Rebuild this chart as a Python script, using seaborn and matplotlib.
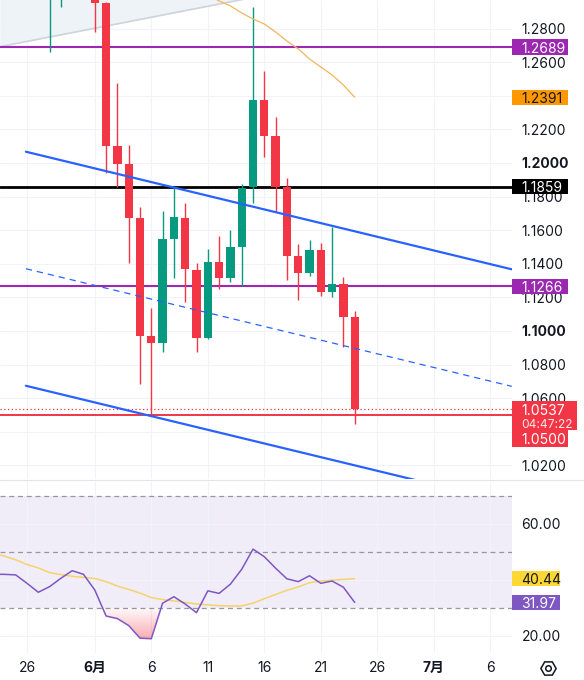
import numpy as np
import matplotlib
matplotlib.use("Agg")
import matplotlib.pyplot as plt
import seaborn as sns
from matplotlib.patches import Rectangle
from matplotlib.lines import Line2D
from matplotlib.colors import LinearSegmentedColormap
from matplotlib import transforms

# ---------------------------------------------------------------
# data (day index: 0 = 5/26)
# ---------------------------------------------------------------
candle_days = list(range(2, 30))
opens  = [1.3020, 1.3010, 1.3120, 1.3180, 1.3060, 1.2954, 1.2103, 1.1992,
          1.1671, 1.0970, 1.0927, 1.1548, 1.1671, 1.1363, 1.0957, 1.1409,
          1.1314, 1.1502, 1.1855, 1.2375, 1.2161, 1.1855, 1.1448, 1.1343,
          1.1482, 1.1234, 1.1280, 1.1082]
highs  = [1.3150, 1.3200, 1.3250, 1.3220, 1.3100, 1.2960, 1.2474, 1.2107,
          1.1736, 1.1135, 1.1716, 1.1855, 1.1760, 1.1403, 1.1486, 1.1565,
          1.1601, 1.1875, 1.2930, 1.2549, 1.2272, 1.1909, 1.1518, 1.1542,
          1.1522, 1.1621, 1.1323, 1.1121]
lows   = [1.2663, 1.2930, 1.3050, 1.3020, 1.2778, 1.1942, 1.1859, 1.1403,
          1.0683, 1.0502, 1.0877, 1.1314, 1.1174, 1.0873, 1.0955, 1.1248,
          1.1290, 1.1268, 1.1760, 1.2038, 1.1710, 1.1304, 1.1185, 1.1327,
          1.1210, 1.1204, 1.0907, 1.0446]
closes = [1.3100, 1.3120, 1.3180, 1.3060, 1.2955, 1.2103, 1.1992, 1.1671,
          1.0970, 1.0927, 1.1548, 1.1677, 1.1367, 1.0957, 1.1409, 1.1314,
          1.1502, 1.1849, 1.2375, 1.2161, 1.1855, 1.1448, 1.1343, 1.1482,
          1.1234, 1.1280, 1.1082, 1.0537]

ma_days = list(range(16, 30))
ma_price = [1.3005, 1.2964, 1.2935, 1.2893, 1.2857, 1.2827, 1.2780, 1.2726,
            1.2679, 1.2619, 1.2571, 1.2524, 1.2464, 1.2391]

chan_x = [-0.1, 42.9]
chan_upper = [1.2067, 1.1367]
chan_lower = [1.0674, 0.9974]
trend_x = [-2.4, 20.0]
trend_y = [1.2692, 1.2985]

level_purple_hi = 1.2689
level_black = 1.1859
level_purple_lo = 1.1266
level_red = 1.0500
last_price = 1.0537
ma_last = 1.2391
countdown = "04:47:22"

rsi_days = list(range(-3, 30))
rsi = [42.0, 42.0, 41.8, 38.8, 35.6, 37.6, 40.6, 43.3, 42.0, 36.4, 27.1,
       26.2, 23.7, 19.2, 19.0, 31.7, 34.0, 31.4, 28.3, 36.1, 35.2, 38.5,
       43.8, 51.0, 48.3, 44.2, 40.4, 39.4, 41.5, 38.8, 39.6, 37.4, 31.97]
rsi_ma = [49.5, 48.5, 47.2, 45.5, 44.3, 42.6, 41.9, 41.3, 40.9, 40.5, 39.4,
          37.8, 36.6, 35.3, 33.7, 33.0, 32.5, 32.0, 31.4, 31.1, 30.8, 30.7,
          30.7, 31.7, 33.3, 34.8, 36.3, 37.5, 39.0, 39.6, 39.9, 40.2, 40.44]

tick_days = [0, 6, 11, 16, 21, 26, 31, 36, 41]
tick_labels = ["26", "6月", "6", "11", "16", "21", "26", "7月", "6"]
price_ticks = [1.02, 1.04, 1.06, 1.08, 1.10, 1.12, 1.14, 1.16, 1.18, 1.20,
               1.22, 1.24, 1.26, 1.28]
hidden_price_ticks = [1.04, 1.24]      # sit under value labels
rsi_ticks = [20, 40, 60]
hidden_rsi_ticks = [40]

# ---------------------------------------------------------------
# style
# ---------------------------------------------------------------
UP, DOWN = "#089981", "#f23645"
PURPLE = "#9c27b0"
BLUE = "#2962ff"
RSI_C = "#7e57c2"
RSI_MA_C = "#f5d36b"
GRID = "#f0f3fa"
TXT = "#131722"
FS = 10

sns.set_theme(style="white")
plt.rcParams["font.family"] = ["Inter", "Noto Sans CJK JP", "DejaVu Sans"]

W, H = 584, 680
PLOT_W = 512
fig = plt.figure(figsize=(W / 100, H / 100), dpi=100)
ax = fig.add_axes([0, 1 - 479 / H, PLOT_W / W, 479 / H])
ax_r = fig.add_axes([0, 1 - 653 / H, PLOT_W / W, (653 - 480) / H])

XLIM = (-2.39, 42.92)
PYLIM = (1.0119, 1.2970)
RYLIM = (13.9, 75.7)

# ---------------------------------------------------------------
# price pane
# ---------------------------------------------------------------
for p in price_ticks:
    ax.axhline(p, color=GRID, lw=0.8, zorder=0)
for d in tick_days:
    ax.axvline(d, color=GRID, lw=0.8, zorder=0)

tx = np.array(trend_x)
ty = np.array(trend_y)
ax.fill_between(tx, ty, 1.35, color="#eef3f8", lw=0, zorder=0.5)
sns.lineplot(x=trend_x, y=trend_y, ax=ax, color="#cfd3da", lw=1.2, zorder=1)

for lvl, col, lw in [(level_purple_hi, PURPLE, 1.5), (level_black, "#000000", 2.0),
                     (level_purple_lo, PURPLE, 1.5), (level_red, DOWN, 1.4)]:
    ax.axhline(lvl, color=col, lw=lw, zorder=1.5)
ax.axhline(last_price, color=DOWN, lw=0.9, ls=(0, (1, 2)), zorder=1.5)

cu = np.array(chan_upper)
cl = np.array(chan_lower)
sns.lineplot(x=chan_x, y=chan_upper, ax=ax, color=BLUE, lw=1.6, zorder=4)
sns.lineplot(x=chan_x, y=chan_lower, ax=ax, color=BLUE, lw=1.6, zorder=4)
ax.plot(chan_x, (cu + cl) / 2, color=BLUE, lw=0.9, ls=(0, (5, 4)), zorder=4)

sns.lineplot(x=ma_days, y=ma_price, ax=ax, color="#f3b55a", lw=0.9, zorder=3)

o = np.array(opens); c = np.array(closes)
cols = [UP if cc >= oo else DOWN for oo, cc in zip(o, c)]
ax.vlines(candle_days, lows, highs, colors=cols, lw=1.0, zorder=2)
ax.bar(candle_days, c - o, bottom=o, width=0.74, color=cols, lw=0, zorder=2.2)

ax.set_xlim(*XLIM)
ax.set_ylim(*PYLIM)
ax.set_xticks(tick_days)
ax.tick_params(axis="x", length=0, labelbottom=False)
ax.yaxis.tick_right()
ax.set_yticks(price_ticks)
ax.set_yticklabels(["" if v in hidden_price_ticks else f"{v:.4f}" for v in price_ticks])
ax.tick_params(axis="y", length=0, pad=6.8, labelsize=FS, labelcolor=TXT)
for lbl, v in zip(ax.get_yticklabels(), price_ticks):
    if abs(v - 1.2) < 1e-9 or abs(v - 1.1) < 1e-9:
        lbl.set_fontweight("bold")
ax.grid(False)
for s in ax.spines.values():
    s.set_visible(False)


def badge(axis, y, fc, text, tc, w_px=55.5, h_px=15.5, dy_px=0.0, alpha=1.0, size=FS):
    """Right-side value label; y in data units, offsets in pixels."""
    y0, y1 = axis.get_ylim()
    ppu = axis.bbox.height / (y1 - y0)
    wx = axis.bbox.width
    tr = transforms.blended_transform_factory(axis.transAxes, axis.transData)
    yc = y - dy_px / ppu
    if fc is not None:
        axis.add_patch(Rectangle((1.0, yc - h_px / 2 / ppu), w_px / wx, h_px / ppu,
                                 transform=tr, clip_on=False, fc=fc, ec="none", zorder=10))
    if text:
        axis.text(1.0 + 9.0 / wx, yc, text, transform=tr, ha="left", va="center_baseline",
                  color=tc, size=size, clip_on=False, zorder=11, alpha=alpha)


badge(ax, level_purple_hi, PURPLE, f"{level_purple_hi:.4f}", "white")
badge(ax, ma_last, "#ff9800", f"{ma_last:.4f}", TXT)
badge(ax, level_black, "#000000", f"{level_black:.4f}", "white")
badge(ax, level_purple_lo, PURPLE, f"{level_purple_lo:.4f}", "white")
# current price block + 1.0500 line label below it
badge(ax, last_price, DOWN, "", "white", w_px=65, h_px=29.3, dy_px=6.5)
badge(ax, last_price, None, f"{last_price:.4f}", "white", dy_px=0.3)
badge(ax, last_price, None, countdown, "white", dy_px=14.5, alpha=0.88, size=8.6)
badge(ax, last_price, DOWN, f"{level_red:.4f}", "white", dy_px=29.9, h_px=17.3)

# ---------------------------------------------------------------
# RSI pane
# ---------------------------------------------------------------
ax_r.axhspan(30, 70, color=RSI_C, alpha=0.1, lw=0, zorder=0)
for v in rsi_ticks:
    ax_r.axhline(v, color=GRID, lw=0.8, zorder=0.2)
for d in tick_days:
    ax_r.axvline(d, color=GRID, lw=0.8, zorder=0.2)
for v in (70, 50, 30):
    ax_r.axhline(v, color="#9598a1", lw=0.9, ls=(0, (4, 3)), zorder=1)

rs = np.array(rsi)
poly = ax_r.fill_between(rsi_days, rs, 30, where=rs < 30, interpolate=True,
                         color="none", lw=0)
cmap = LinearSegmentedColormap.from_list(
    "os", [(0.95, 0.21, 0.27, 0.02), (0.95, 0.21, 0.27, 0.42)])
grad = np.linspace(1, 0, 100).reshape(-1, 1)
for path in poly.get_paths():
    im = ax_r.imshow(grad, extent=[XLIM[0], XLIM[1], 18.5, 30], origin="lower",
                     aspect="auto", cmap=cmap, vmin=0, vmax=1, zorder=1.5,
                     interpolation="bilinear")
    im.set_clip_path(path, transform=ax_r.transData)

sns.lineplot(x=rsi_days, y=rsi_ma, ax=ax_r, color=RSI_MA_C, lw=1.1, zorder=2)
sns.lineplot(x=rsi_days, y=rsi, ax=ax_r, color=RSI_C, lw=1.1, zorder=3)

ax_r.set_xlim(*XLIM)
ax_r.set_ylim(*RYLIM)
ax_r.set_xticks(tick_days)
ax_r.set_xticklabels(tick_labels)
ax_r.tick_params(axis="x", length=0, pad=5.5, labelsize=FS, labelcolor=TXT)
for lbl in ax_r.get_xticklabels():
    if "月" in lbl.get_text():
        lbl.set_fontweight("bold")
ax_r.yaxis.tick_right()
ax_r.set_yticks(rsi_ticks)
ax_r.set_yticklabels(["" if v in hidden_rsi_ticks else f"{v:.2f}" for v in rsi_ticks])
ax_r.tick_params(axis="y", length=0, pad=6.8, labelsize=FS, labelcolor=TXT)
ax_r.grid(False)
for s in ax_r.spines.values():
    s.set_visible(False)

badge(ax_r, rsi_ma[-1], "#fdd835", f"{rsi_ma[-1]:.2f}", TXT, w_px=48)
badge(ax_r, rsi[-1], RSI_C, f"{rsi[-1]:.2f}", "white", w_px=48)

# pane separator and settings glyph
fig.add_artist(Line2D([0, 1], [1 - 479.5 / H] * 2, transform=fig.transFigure,
                      color="#e0e3eb", lw=0.8))
fig.add_artist(Line2D([548 / W], [1 - 668 / H], transform=fig.transFigure,
                      marker="H", ms=11, mfc="none", mec=TXT, mew=1.1))
fig.add_artist(Line2D([548 / W], [1 - 668 / H], transform=fig.transFigure,
                      marker="o", ms=4, mfc="none", mec=TXT, mew=1.1))

fig.savefig("out.png", dpi=100)
